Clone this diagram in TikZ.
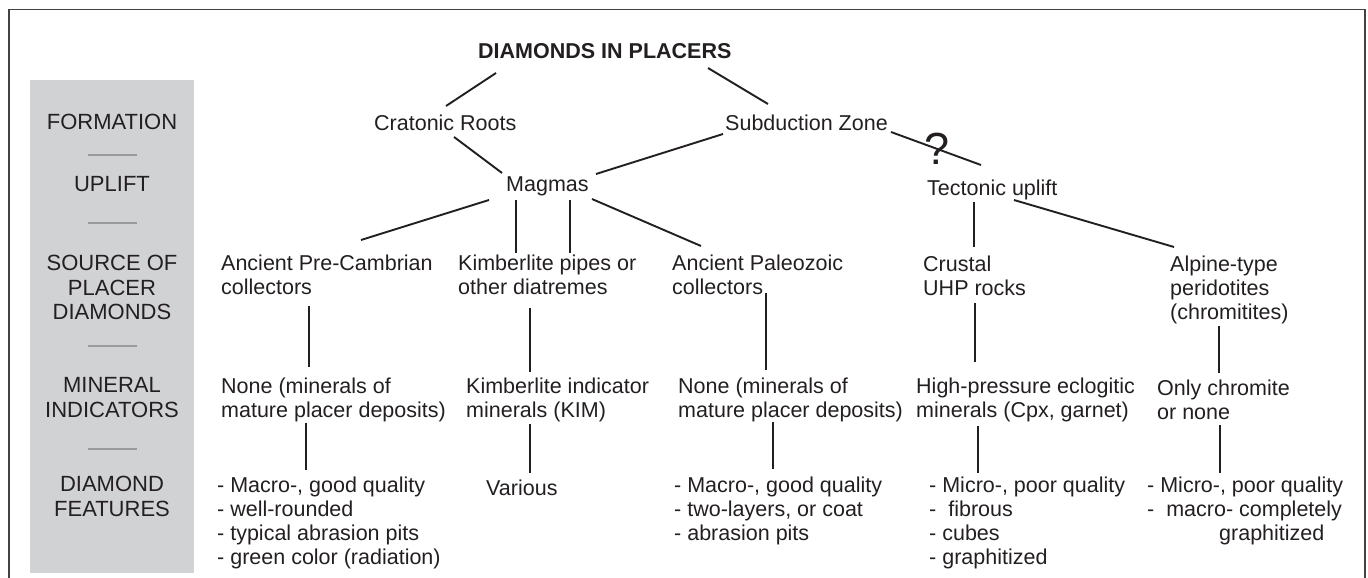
\documentclass[tikz,border=0pt]{standalone}
\usepackage{fontspec}
\setmainfont{Liberation Sans}
\usepackage{xcolor}
\usepackage{tikz}
\usetikzlibrary{positioning}
\definecolor{panelgray}{HTML}{D1D2D4}
\definecolor{sepgray}{HTML}{999A9C}
\definecolor{ink}{HTML}{231F20}

\begin{document}
\begin{tikzpicture}[x=1pt, y=-1pt,
        lbl/.style={anchor=north west, inner sep=0pt, align=left, text=ink,
            font=\fontsize{21.5}{24}\selectfont},
        side/.style={inner sep=0pt, align=center, text=ink,
            font=\fontsize{22}{24.5}\selectfont},
        link/.style={line width=1.9pt, draw=ink}]
        \useasboundingbox (0,0) rectangle (1368,578);

        % frame and grey side panel
        \draw[line width=1.2pt, ink!85] (9,578) -- (9,9.5) -- (1365,9.5) -- (1365,578);
        \fill[panelgray] (30,80) rectangle (194,573);
        \foreach \y in {155,223,346,449}
            \draw[sepgray, line width=2.5pt] (87.5,\y) -- (137,\y);

        % side labels
        \node[side] (formation) at (112,122) {FORMATION};
        \node[side] (uplift) at (112,184) {UPLIFT};
        \node[side] (source) at (112,287.5) {SOURCE OF\\PLACER\\DIAMONDS};
        \node[side] (mineral) at (112,397.5) {MINERAL\\INDICATORS};
        \node[side] (features) at (112,496.5) {DIAMOND\\FEATURES};

        % tree nodes
        \node[lbl] (title) at (478,43.5) {\bfseries DIAMONDS IN PLACERS};
        \node[lbl] (crat) at (374,114.5) {Cratonic Roots};
        \node[lbl] (subd) at (725,114.5) {Subduction Zone};
        \node[lbl] (magmas) at (506,176.5) {Magmas};
        \node[lbl] (tect) at (927,180) {Tectonic uplift};
        \node[inner sep=0pt, text=ink, font=\fontsize{45}{45}\selectfont] (qmark) at (937,148.5) {?};

        \node[lbl] (pre) at (221,255) {Ancient Pre-Cambrian\\collectors};
        \node[lbl] (kpipes) at (458,255) {Kimberlite pipes or\\other diatremes};
        \node[lbl] (paleo) at (672,255) {Ancient Paleozoic\\collectors};
        \node[lbl] (crustal) at (923,256) {Crustal\\UHP rocks};
        \node[lbl] (alpine) at (1170,256) {Alpine-type\\peridotites\\(chromitites)};

        \node[lbl] (none1) at (221,378) {None (minerals of\\mature placer deposits)};
        \node[lbl] (kim) at (466,378) {Kimberlite indicator\\minerals (KIM)};
        \node[lbl] (none3) at (678,378) {None (minerals of\\mature placer deposits)};
        \node[lbl] (hp) at (916,378) {High-pressure eclogitic\\minerals (Cpx, garnet)};
        \node[lbl] (only) at (1157,380) {Only chromite\\or none};

        \node[lbl] (feat1) at (217,477) {- Macro-, good quality\\- well-rounded\\- typical abrasion pits\\- green color (radiation)};
        \node[lbl] (various) at (486,480) {Various};
        \node[lbl] (feat3) at (674,477) {- Macro-, good quality\\- two-layers, or coat\\- abrasion pits};
        \node[lbl] (feat4) at (929,477) {- Micro-, poor quality\\-\ \ fibrous\\- cubes\\- graphitized};
        \node[lbl] (feat5) at (1147,477) {- Micro-, poor quality\\-\ \ macro- completely\\\hspace*{72pt}graphitized};

        % connectors
        \draw[link] ([shift={(18,29.5)}]title.north west) -- ([shift={(72,-8.5)}]crat.north west);
        \draw[link] ([shift={(230,24.5)}]title.north west) -- ([shift={(43,-10.5)}]subd.north west);
        \draw[link] ([shift={(80,22.5)}]crat.north west) -- ([shift={(-4,-3.5)}]magmas.north west);
        \draw[link] ([shift={(-2,19.5)}]subd.north west) -- ([shift={(90,-2.5)}]magmas.north west);
        \draw[link] ([shift={(166,17.5)}]subd.north west) -- ([shift={(54,-15)}]tect.north west);

        \draw[link] ([shift={(-17,23.5)}]magmas.north west) -- ([shift={(140,-15)}]pre.north west);
        \draw[link] ([shift={(10,23.5)}]magmas.north west) -- ([shift={(58,-2)}]kpipes.north west);
        \draw[link] ([shift={(64,23.5)}]magmas.north west) -- ([shift={(112,-2)}]kpipes.north west);
        \draw[link] ([shift={(86,22.5)}]magmas.north west) -- ([shift={(29,-9)}]paleo.north west);
        \draw[link] ([shift={(47,22)}]tect.north west) -- ([shift={(51,-9)}]crustal.north west);
        \draw[link] ([shift={(87,20)}]tect.north west) -- ([shift={(4,-9)}]alpine.north west);

        \draw[link] ([shift={(88,51)}]pre.north west) -- ([shift={(88,-11)}]none1.north west);
        \draw[link] ([shift={(72,53)}]kpipes.north west) -- ([shift={(64,-6)}]kim.north west);
        \draw[link] ([shift={(94,38)}]paleo.north west) -- ([shift={(88,-8)}]none3.north west);
        \draw[link] ([shift={(52,47)}]crustal.north west) -- ([shift={(59,-16)}]hp.north west);
        \draw[link] ([shift={(49,70)}]alpine.north west) -- ([shift={(62,-7)}]only.north west);

        \draw[link] ([shift={(85,45)}]none1.north west) -- ([shift={(89,-7)}]feat1.north west);
        \draw[link] ([shift={(64,46)}]kim.north west) -- ([shift={(44,-7)}]various.north west);
        \draw[link] ([shift={(95,44)}]none3.north west) -- ([shift={(99,-8)}]feat3.north west);
        \draw[link] ([shift={(62,48)}]hp.north west) -- ([shift={(49,-4)}]feat4.north west);
        \draw[link] ([shift={(63,45)}]only.north west) -- ([shift={(73,-4)}]feat5.north west);
    \end{tikzpicture}
\end{document}
